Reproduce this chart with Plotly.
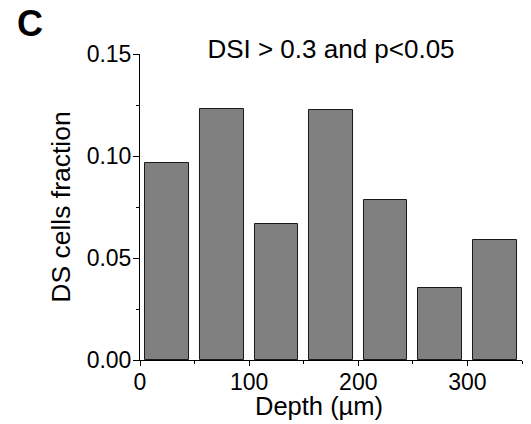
import plotly.graph_objects as go

depth_centers = [25, 75, 125, 175, 225, 275, 325]
ds_fraction = [0.0966, 0.1230, 0.0666, 0.1225, 0.0785, 0.0354, 0.0590]
bar_width = 40
x_ticks = [0, 100, 200, 300]
y_ticks = [0.00, 0.05, 0.10, 0.15]

FONT = "Liberation Sans, Arial, sans-serif"

# page has an 8px body margin, so figure coords = page coords - 8
W, H = 523, 416
L, R, T, B = 132, 9, 46, 64
PW, PH = W - L - R, H - T - B

fig = go.Figure()
fig.add_trace(go.Bar(
    x=depth_centers, y=ds_fraction, width=bar_width,
    marker=dict(color="#808080", line=dict(color="#1a1a1a", width=1)),
    showlegend=False,
))

fig.update_layout(
    width=W, height=H,
    margin=dict(l=L, r=R, t=T, b=B),
    paper_bgcolor="white", plot_bgcolor="white",
    font=dict(family=FONT, color="black", size=23),
    title=dict(text="DSI > 0.3 and p<0.05", x=0.5, xref="paper", xanchor="center",
               y=1 - 40.6 / H, yref="container", yanchor="middle",
               font=dict(size=26, family=FONT, color="black")),
    xaxis=dict(range=[0, 350], tickvals=x_ticks, ticks="outside", ticklen=5, tickwidth=1,
               tickcolor="black", showline=True, linecolor="black", linewidth=1,
               showgrid=False, zeroline=False, tickfont=dict(size=23), ticklabelstandoff=-4,
               minor=dict(dtick=50, tick0=0, ticks="outside", ticklen=3, tickcolor="black", showgrid=False)),
    yaxis=dict(range=[0, 0.15], tickvals=y_ticks, tickformat=".2f", ticks="outside", ticklen=6,
               tickwidth=1, tickcolor="black", showline=True, linecolor="black", linewidth=1,
               showgrid=False, zeroline=False, tickfont=dict(size=23), ticklabelstandoff=-3,
               minor=dict(dtick=0.025, tick0=0, ticks="outside", ticklen=3, tickcolor="black", showgrid=False),
               title=dict(text="DS cells fraction", font=dict(size=26.5, family=FONT), standoff=8)),
    bargap=0,
)

fig.add_annotation(text="Depth (µm)", xref="paper", yref="paper",
                   x=(310.6 - L) / PW, y=(H - B - 398) / PH,
                   xanchor="center", yanchor="middle", showarrow=False,
                   font=dict(size=25.5, family=FONT, color="black"))
fig.add_annotation(text="<b>C</b>", xref="paper", yref="paper",
                   x=(22 - L) / PW, y=(H - B - 16) / PH,
                   xanchor="center", yanchor="middle", showarrow=False,
                   font=dict(size=36, family=FONT, color="black"))

fig.write_html("out.html")
